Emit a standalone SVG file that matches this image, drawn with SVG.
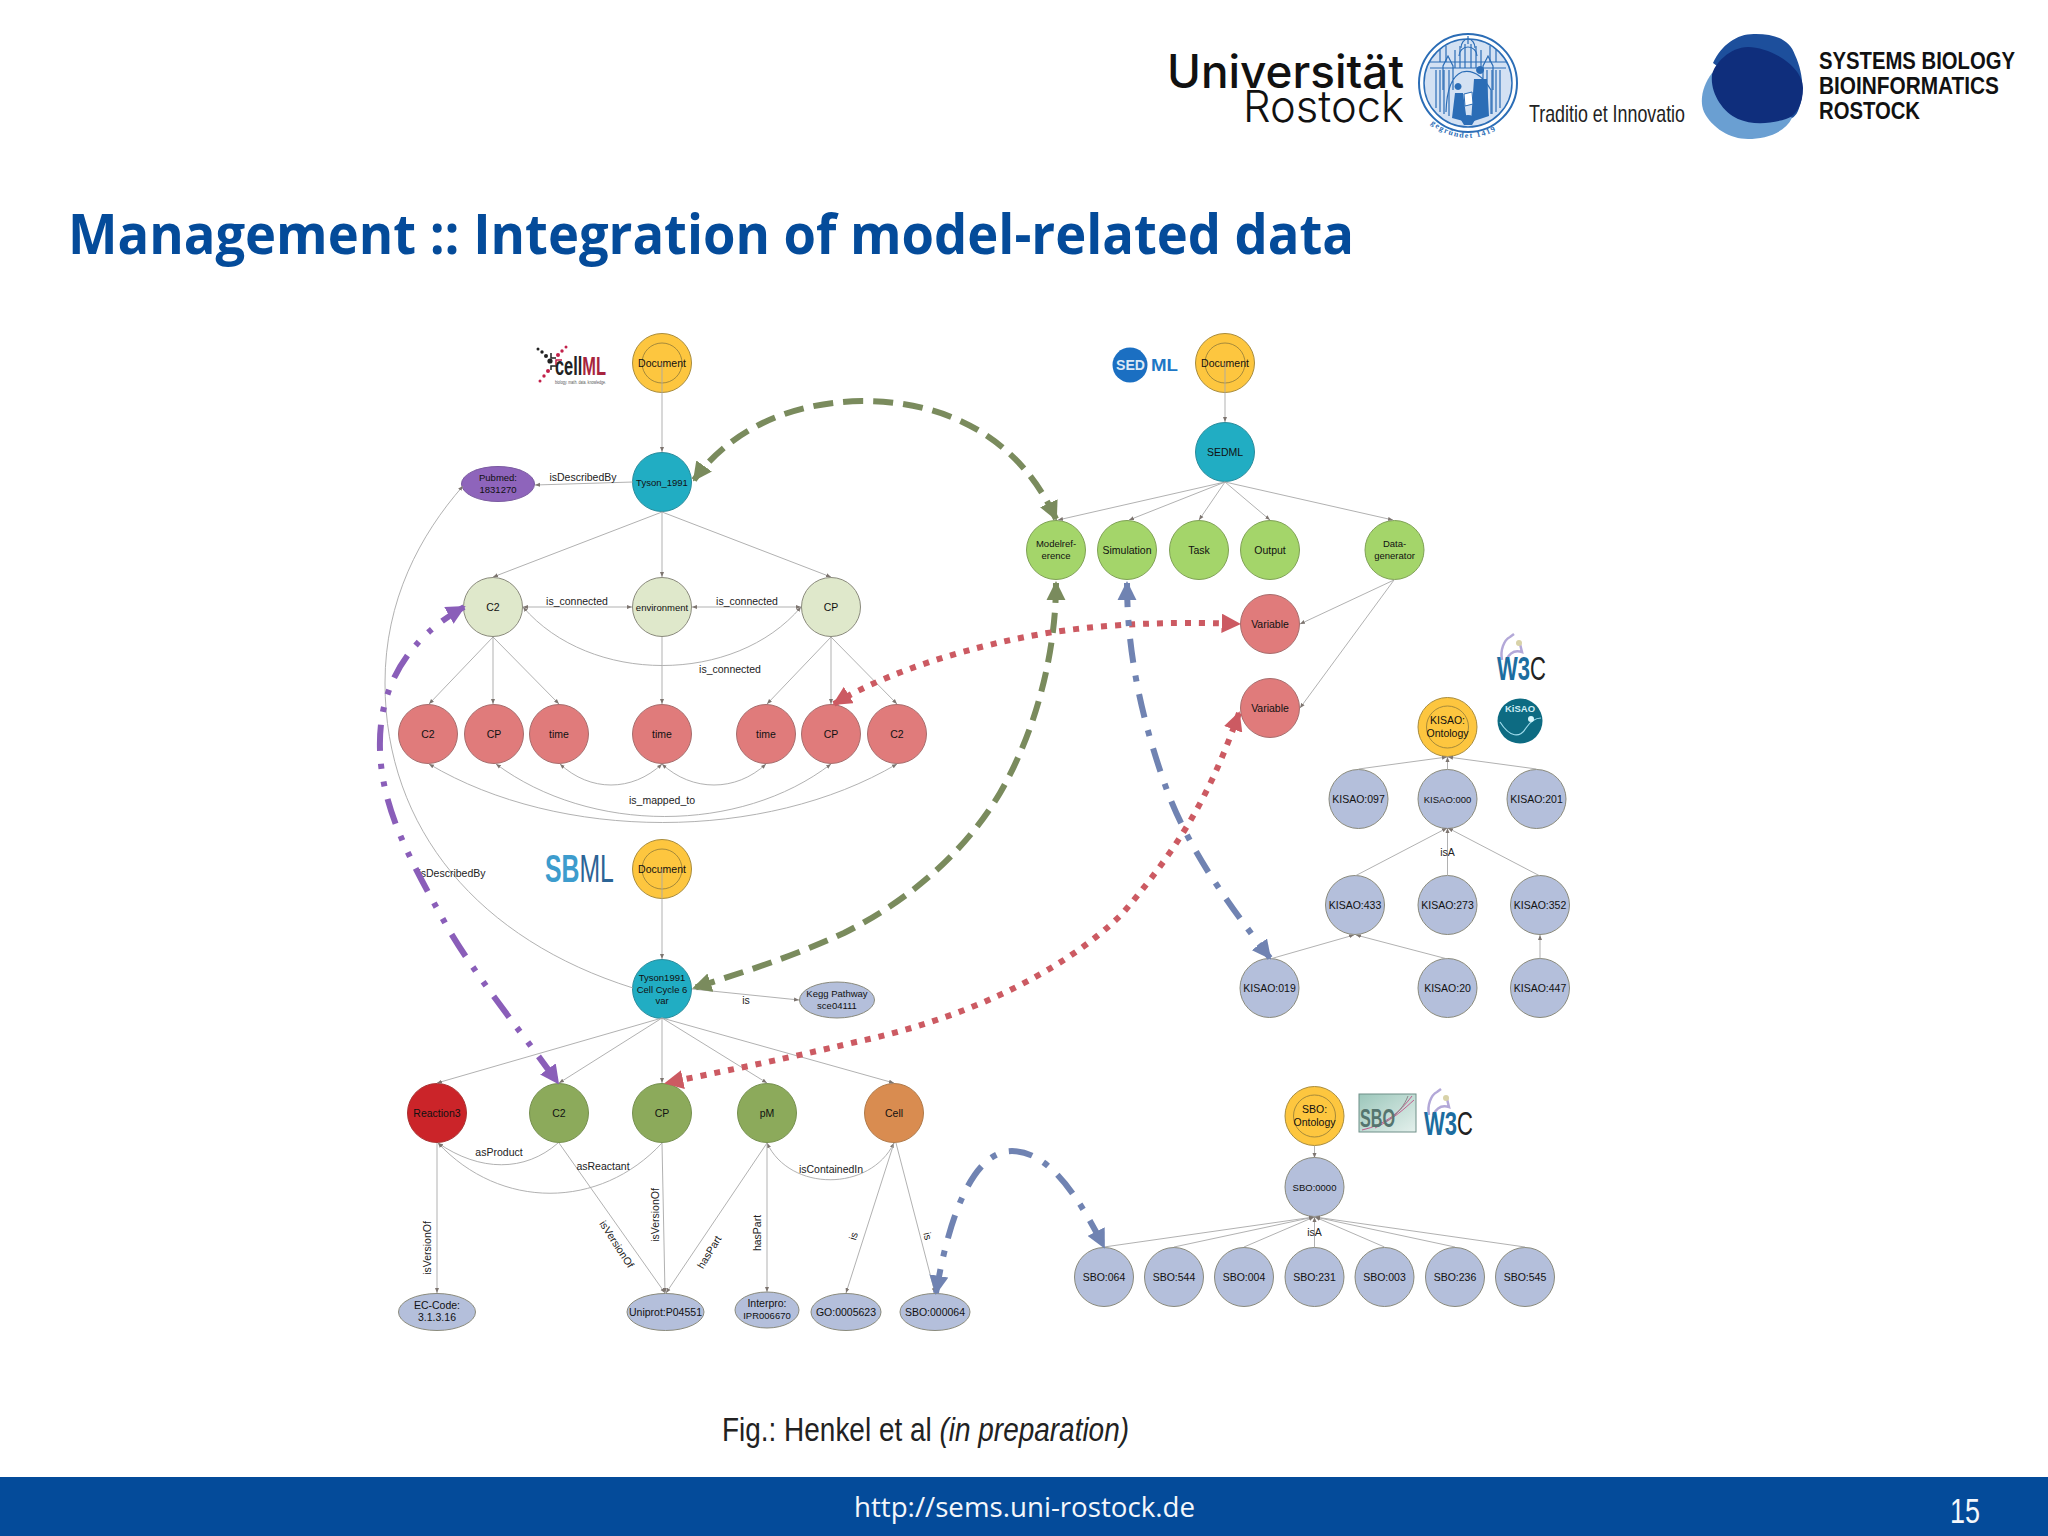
<svg xmlns="http://www.w3.org/2000/svg" width="2048" height="1536" viewBox="0 0 2048 1536">
<style>
text{font-family:"Liberation Sans",Arial,sans-serif;fill:#111}
.n{font-size:10.5px;text-anchor:middle}
.s{font-size:9.5px;text-anchor:middle}
.l{font-size:10.5px;text-anchor:middle;fill:#222}
circle,ellipse{stroke:#8a8a7c;stroke-width:1}
.doc{fill:#fdc63f;stroke:#a98c3c}
.in{fill:none;stroke:#8f7a38;stroke-width:.8}
.teal{fill:#21adc3;stroke:#2a8c9c}
.pale{fill:#dfe8cb}
.pink{fill:#e07b7b;stroke:#a76d6d}
.pur{fill:#8e64bb;stroke:#7a5aa0}
.lil{fill:#b4bfdb}
.lime{fill:#a4d56a;stroke:#7fa155}
.oli{fill:#8caa5b;stroke:#76904f}
.red{fill:#cb2429;stroke:#a33}
.ora{fill:#d98c50;stroke:#b07a4a}
.e{fill:none;stroke:#a8a8a8;stroke-width:.9;marker-end:url(#a)}
.b{fill:none;stroke:#a8a8a8;stroke-width:.9;marker-end:url(#a);marker-start:url(#a)}
.g{fill:none;stroke:#7a8b5d;stroke-width:6;stroke-dasharray:20 10}
.p{fill:none;stroke:#8a5eb9;stroke-width:6;stroke-dasharray:26 13 5 13 5 13}
.r{fill:none;stroke:#cc5a62;stroke-width:6;stroke-dasharray:6 8}
.u{fill:none;stroke:#7083b2;stroke-width:6;stroke-dasharray:24 13 6 13}
.sl{fill:none;stroke:#2b6db6;stroke-width:1.2}
.sf{fill:#2b6db6}
</style>
<defs>
<marker id="a" viewBox="0 0 10 10" refX="10" refY="5" markerWidth="5" markerHeight="5" markerUnits="userSpaceOnUse" orient="auto-start-reverse"><path d="M0 1L10 5L0 9z" fill="#7d7570"/></marker>
<marker id="mg" viewBox="0 0 10 10" refX="9" refY="5" markerWidth="3.200" markerHeight="3.200" orient="auto-start-reverse"><path d="M0 0L10 5L0 10z" fill="#7a8b5d"/></marker>
<marker id="mp" viewBox="0 0 10 10" refX="9" refY="5" markerWidth="3.200" markerHeight="3.200" orient="auto-start-reverse"><path d="M0 0L10 5L0 10z" fill="#8a5eb9"/></marker>
<marker id="mr" viewBox="0 0 10 10" refX="9" refY="5" markerWidth="3.200" markerHeight="3.200" orient="auto-start-reverse"><path d="M0 0L10 5L0 10z" fill="#cc5a62"/></marker>
<marker id="mu" viewBox="0 0 10 10" refX="9" refY="5" markerWidth="3.200" markerHeight="3.200" orient="auto-start-reverse"><path d="M0 0L10 5L0 10z" fill="#7083b2"/></marker>
<linearGradient id="sbog" x1="0" y1="0" x2="1" y2="1"><stop offset="0" stop-color="#9cc7bb"/><stop offset="1" stop-color="#e4f0ec"/></linearGradient>
<path id="sealarc" d="M1426 119A56 56 0 0 0 1510 119"/>
</defs>
<rect width="2048" height="1536" fill="#fff"/>

<g id="logo-rostock">
<text x="1404" y="88" text-anchor="end" font-size="46" textLength="237" lengthAdjust="spacingAndGlyphs" style="font-family:Inter,'Liberation Sans',sans-serif;font-weight:500">Universität</text>
<text x="1404" y="122" text-anchor="end" font-size="44" textLength="161" lengthAdjust="spacingAndGlyphs" style="font-family:Inter,'Liberation Sans',sans-serif;font-weight:300">Rostock</text>
</g>
<g id="seal">
<circle cx="1468" cy="83" r="49" fill="#fff" style="stroke:#2b6db6;stroke-width:2"/>
<circle cx="1468" cy="83" r="44" fill="#d3e1f3" style="stroke:#2b6db6;stroke-width:1.500"/>
<path class="sl" d="M1430 62H1506M1430 68H1506M1436 108V70M1440 112V70M1444 114V70M1449 116V70M1487 116V70M1492 114V70M1496 112V70M1500 108V70M1455 68V50M1460 68V46M1465 68V44M1471 68V44M1476 68V46M1481 68V50M1468 36V44M1440 62V50M1446 62V46M1490 62V46M1496 62V50"/>
<path class="sl" d="M1459 56A9 9 0 0 1 1477 56M1461 48A7 9 0 0 1 1475 48M1443 90L1443 66L1448 56L1453 66V90M1483 90L1483 66L1488 56L1493 66V90M1446 112Q1447 78 1462 72Q1478 68 1491 90V114"/>
<path class="sf" d="M1458 90a3.500 3.500 0 1 1 .1 0zM1452 118L1455 93H1463L1467 122z"/>
<path class="sf" d="M1480 74a4 4 0 1 1 .1 0zM1471 122L1474 79H1487L1489 116z"/>
<path fill="#fff" stroke="#2b6db6" d="M1464 94L1472 92L1473 104L1465 106z"/>
<path class="sf" d="M1461 120a7 5 0 1 1 14 0l-3 5h-8z"/>
<text font-size="8" letter-spacing="1.300" style="font-family:'Liberation Serif',serif;font-weight:700;fill:#2b6db6"><textPath href="#sealarc" startOffset="7%">gegründet 1419</textPath></text>
</g>
<g id="motto"><text x="1529" y="122" font-size="24" textLength="156" lengthAdjust="spacingAndGlyphs" style="fill:#222">Traditio et Innovatio</text></g>
<g id="logo-sbi">
<path fill="#6a9fd2" d="M1712 73C1703 85 1699 100 1704 112C1712 128 1730 139 1748 139C1765 139 1785 133 1792 118L1760 90Z"/>
<path fill="#1d4f9c" d="M1713 63C1722 44 1738 33 1756 34C1776 34 1790 40 1795 55C1802 70 1805 90 1800 105C1798 112 1796 116 1792 118L1750 90Z"/>
<path fill="#0f2e7c" d="M1712 75C1714 64 1730 47 1748 47C1770 47 1803 66 1803 88C1803 105 1796 116 1786 119C1770 124 1752 125 1738 119C1722 112 1710 92 1712 75Z"/>
<text x="1819" y="69" font-size="24" font-weight="700" textLength="196" lengthAdjust="spacingAndGlyphs">SYSTEMS BIOLOGY</text>
<text x="1819" y="94" font-size="24" font-weight="700" textLength="180" lengthAdjust="spacingAndGlyphs">BIOINFORMATICS</text>
<text x="1819" y="119" font-size="24" font-weight="700" textLength="101" lengthAdjust="spacingAndGlyphs">ROSTOCK</text>
</g>

<text id="title" x="68" y="254" font-size="55" font-weight="700" textLength="1286" lengthAdjust="spacingAndGlyphs" style="font-family:'Open Sans','Liberation Sans',sans-serif;fill:#044b9a">Management :: Integration of model-related data</text>

<g id="logo-cellml">
<g><circle cx="538" cy="349" r="1.500" style="fill:#222;stroke:none"/><circle cx="542" cy="352" r="1.700" style="fill:#222;stroke:none"/><circle cx="546" cy="356" r="2" style="fill:#222;stroke:none"/><circle cx="550" cy="361" r="2.600" style="fill:#222;stroke:none"/></g>
<g><circle cx="566" cy="347" r="1.500" style="fill:#c2204a;stroke:none"/><circle cx="562" cy="351" r="1.700" style="fill:#c2204a;stroke:none"/><circle cx="558" cy="355" r="2" style="fill:#c2204a;stroke:none"/><circle cx="540" cy="381" r="1.500" style="fill:#c2204a;stroke:none"/><circle cx="544" cy="376" r="1.700" style="fill:#c2204a;stroke:none"/><circle cx="548" cy="371" r="2" style="fill:#c2204a;stroke:none"/></g>
<path d="M551 353V358H556M557 366H551V370" fill="none" stroke="#222" stroke-width="1.500"/>
<path d="M562 360H556V365" fill="none" stroke="#c2204a" stroke-width="1.500"/>
<text transform="translate(555 375) scale(.656 1)" font-size="25" font-weight="700" style="fill:#222">cell<tspan style="fill:#a8243e">ML</tspan></text>
<text x="555" y="384" font-size="5" textLength="51" lengthAdjust="spacingAndGlyphs" style="fill:#555">biology. math. data. knowledge.</text>
</g>
<g id="logo-sbml">
<text transform="translate(545 882) scale(.653 1)" font-size="38" font-weight="700" style="fill:#3d9ccd">SB<tspan font-weight="400" style="fill:#2c6496">ML</tspan></text>
</g>
<g id="logo-sedml">
<circle cx="1130" cy="365" r="17.500" style="fill:#1b6fc2;stroke:none"/>
<text x="1116" y="370" font-size="14" font-weight="700" textLength="29" lengthAdjust="spacingAndGlyphs" style="fill:#dce9f6">SED</text>
<text x="1151" y="371" font-size="17" font-weight="700" textLength="27" lengthAdjust="spacingAndGlyphs" style="fill:#2077c5">ML</text>
</g>
<g id="logo-w3c-1">
<path d="M1502 660C1500 650 1504 640 1510 637L1514 634M1506 660C1510 652 1516 650 1522 652L1520 644" fill="none" stroke="#b3a8d8" stroke-width="2.500"/>
<circle cx="1519" cy="643" r="3" style="fill:#d8d2a8;stroke:none"/>
<text transform="translate(1497 680) scale(.668 1)" font-size="33" font-weight="700" style="fill:#1c6da0">W3<tspan font-weight="400" style="fill:#222">C</tspan></text>
</g>
<g id="logo-kisao">
<circle cx="1520" cy="721" r="22.500" style="fill:#0d6b82;stroke:none"/>
<path d="M1500 722C1510 738 1520 738 1526 728C1530 722 1534 718 1541 718" fill="none" stroke="#9fdcec" stroke-width="1.200"/>
<circle cx="1531" cy="719" r="3" style="fill:#d8f6fb;stroke:none"/>
<text x="1520" y="712" text-anchor="middle" font-size="9.500" font-weight="700" style="fill:#cfeef5">KiSAO</text>
</g>
<g id="logo-sbo">
<rect x="1359" y="1094" width="57" height="38" fill="url(#sbog)" stroke="#6f8f88"/>
<path d="M1362 1130C1385 1125 1400 1112 1412 1096M1375 1128C1395 1118 1405 1108 1414 1100" fill="none" stroke="#c23a7a" stroke-width=".8"/>
<path d="M1385 1122C1398 1115 1405 1104 1408 1096" fill="none" stroke="#888"/>
<text x="1360" y="1127" font-size="25" font-weight="700" textLength="35" lengthAdjust="spacingAndGlyphs" style="fill:#55756f">SBO</text>
</g>
<g id="logo-w3c-2">
<path d="M1429 1115C1427 1105 1431 1095 1437 1092L1441 1089M1433 1115C1437 1107 1443 1105 1449 1107L1447 1099" fill="none" stroke="#b3a8d8" stroke-width="2.500"/>
<circle cx="1446" cy="1098" r="3" style="fill:#d8d2a8;stroke:none"/>
<text transform="translate(1424 1135) scale(.668 1)" font-size="33" font-weight="700" style="fill:#1c6da0">W3<tspan font-weight="400" style="fill:#222">C</tspan></text>
</g>

<g id="nodes">
<g id="cml-doc"><circle class="doc" cx="662" cy="363" r="29.500"/><circle class="in" cx="662" cy="363" r="20"/><text class="n" x="662" y="367">Document</text></g>
<g id="cml-tyson"><circle class="teal" cx="662" cy="482" r="29.500"/><text class="s" x="662" y="486">Tyson_1991</text></g>
<g id="cml-pubmed"><ellipse class="pur" cx="498" cy="484" rx="36.500" ry="17.500"/><text class="s" x="498" y="481">Pubmed:</text><text class="s" x="498" y="493">1831270</text></g>
<g id="cml-c2"><circle class="pale" cx="493" cy="607" r="29.500"/><text class="n" x="493" y="611">C2</text></g>
<g id="cml-env"><circle class="pale" cx="662" cy="607" r="29.500"/><text class="s" x="662" y="611">environment</text></g>
<g id="cml-cp"><circle class="pale" cx="831" cy="607" r="29.500"/><text class="n" x="831" y="611">CP</text></g>
<g id="cml-a"><circle class="pink" cx="428" cy="734" r="29.500"/><text class="n" x="428" y="738">C2</text></g>
<g id="cml-b"><circle class="pink" cx="494" cy="734" r="29.500"/><text class="n" x="494" y="738">CP</text></g>
<g id="cml-c"><circle class="pink" cx="559" cy="734" r="29.500"/><text class="n" x="559" y="738">time</text></g>
<g id="cml-d"><circle class="pink" cx="662" cy="734" r="29.500"/><text class="n" x="662" y="738">time</text></g>
<g id="cml-e"><circle class="pink" cx="766" cy="734" r="29.500"/><text class="n" x="766" y="738">time</text></g>
<g id="cml-f"><circle class="pink" cx="831" cy="734" r="29.500"/><text class="n" x="831" y="738">CP</text></g>
<g id="cml-g"><circle class="pink" cx="897" cy="734" r="29.500"/><text class="n" x="897" y="738">C2</text></g>

<g id="sbml-doc"><circle class="doc" cx="662" cy="869" r="29.500"/><circle class="in" cx="662" cy="869" r="20"/><text class="n" x="662" y="873">Document</text></g>
<g id="sbml-tyson"><circle class="teal" cx="662" cy="989" r="29.500"/><text class="s" x="662" y="981">Tyson1991</text><text class="s" x="662" y="992.500">Cell Cycle 6</text><text class="s" x="662" y="1004">var</text></g>
<g id="sbml-kegg"><ellipse class="lil" cx="837" cy="1000" rx="37.500" ry="18"/><text class="s" x="837" y="997">Kegg Pathway</text><text class="s" x="837" y="1009">sce04111</text></g>
<g id="sbml-r3"><circle class="red" cx="437" cy="1113" r="29.500"/><text class="n" x="437" y="1117">Reaction3</text></g>
<g id="sbml-c2"><circle class="oli" cx="559" cy="1113" r="29.500"/><text class="n" x="559" y="1117">C2</text></g>
<g id="sbml-cp"><circle class="oli" cx="662" cy="1113" r="29.500"/><text class="n" x="662" y="1117">CP</text></g>
<g id="sbml-pm"><circle class="oli" cx="767" cy="1113" r="29.500"/><text class="n" x="767" y="1117">pM</text></g>
<g id="sbml-cell"><circle class="ora" cx="894" cy="1113" r="29.500"/><text class="n" x="894" y="1117">Cell</text></g>
<g id="sbml-ec"><ellipse class="lil" cx="437" cy="1312" rx="38.500" ry="18.500"/><text class="n" x="437" y="1309">EC-Code:</text><text class="n" x="437" y="1321">3.1.3.16</text></g>
<g id="sbml-uni"><ellipse class="lil" cx="665.500" cy="1312" rx="38.500" ry="18.500"/><text class="n" x="665.500" y="1316">Uniprot:P04551</text></g>
<g id="sbml-ipr"><ellipse class="lil" cx="767" cy="1310" rx="32" ry="18"/><text class="n" x="767" y="1307">Interpro:</text><text class="s" x="767" y="1319">IPR006670</text></g>
<g id="sbml-go"><ellipse class="lil" cx="846" cy="1312" rx="35" ry="18.500"/><text class="n" x="846" y="1316">GO:0005623</text></g>
<g id="sbml-sbo"><ellipse class="lil" cx="935" cy="1312" rx="35" ry="18.500"/><text class="n" x="935" y="1316">SBO:000064</text></g>

<g id="sed-doc"><circle class="doc" cx="1225" cy="363" r="29.500"/><circle class="in" cx="1225" cy="363" r="20"/><text class="n" x="1225" y="367">Document</text></g>
<g id="sed-root"><circle class="teal" cx="1225" cy="452" r="29.500"/><text class="n" x="1225" y="456">SEDML</text></g>
<g id="sed-model"><circle class="lime" cx="1056" cy="550" r="29.500"/><text class="s" x="1056" y="547">Modelref-</text><text class="s" x="1056" y="559">erence</text></g>
<g id="sed-sim"><circle class="lime" cx="1127" cy="550" r="29.500"/><text class="n" x="1127" y="554">Simulation</text></g>
<g id="sed-task"><circle class="lime" cx="1199" cy="550" r="29.500"/><text class="n" x="1199" y="554">Task</text></g>
<g id="sed-out"><circle class="lime" cx="1270" cy="550" r="29.500"/><text class="n" x="1270" y="554">Output</text></g>
<g id="sed-dg"><circle class="lime" cx="1394.500" cy="550" r="29.500"/><text class="s" x="1394.500" y="547">Data-</text><text class="s" x="1394.500" y="559">generator</text></g>
<g id="sed-v1"><circle class="pink" cx="1270" cy="624" r="29.500"/><text class="n" x="1270" y="628">Variable</text></g>
<g id="sed-v2"><circle class="pink" cx="1270" cy="708" r="29.500"/><text class="n" x="1270" y="712">Variable</text></g>

<g id="kisao-root"><circle class="doc" cx="1447.500" cy="727" r="29.500"/><circle class="in" cx="1447.500" cy="727" r="21"/><text class="n" x="1447.500" y="724">KISAO:</text><text class="n" x="1447.500" y="737">Ontology</text></g>
<g id="k097"><circle class="lil" cx="1358.500" cy="799" r="29.500"/><text class="n" x="1358.500" y="803">KISAO:097</text></g>
<g id="k000"><circle class="lil" cx="1447.500" cy="799" r="29.500"/><text class="s" x="1447.500" y="803">KISAO:000</text></g>
<g id="k201"><circle class="lil" cx="1536.500" cy="799" r="29.500"/><text class="n" x="1536.500" y="803">KISAO:201</text></g>
<g id="k433"><circle class="lil" cx="1355" cy="905" r="29.500"/><text class="n" x="1355" y="909">KISAO:433</text></g>
<g id="k273"><circle class="lil" cx="1447.500" cy="905" r="29.500"/><text class="n" x="1447.500" y="909">KISAO:273</text></g>
<g id="k352"><circle class="lil" cx="1540" cy="905" r="29.500"/><text class="n" x="1540" y="909">KISAO:352</text></g>
<g id="k019"><circle class="lil" cx="1269.500" cy="988" r="29.500"/><text class="n" x="1269.500" y="992">KISAO:019</text></g>
<g id="k20"><circle class="lil" cx="1447.500" cy="988" r="29.500"/><text class="n" x="1447.500" y="992">KISAO:20</text></g>
<g id="k447"><circle class="lil" cx="1540" cy="988" r="29.500"/><text class="n" x="1540" y="992">KISAO:447</text></g>

<g id="sbo-root"><circle class="doc" cx="1314.500" cy="1116" r="29.500"/><circle class="in" cx="1314.500" cy="1116" r="21"/><text class="n" x="1314.500" y="1113">SBO:</text><text class="n" x="1314.500" y="1126">Ontology</text></g>
<g id="s0000"><circle class="lil" cx="1314.500" cy="1187" r="29.500"/><text class="s" x="1314.500" y="1191">SBO:0000</text></g>
<g id="s064"><circle class="lil" cx="1104" cy="1277" r="29.500"/><text class="n" x="1104" y="1281">SBO:064</text></g>
<g id="s544"><circle class="lil" cx="1174" cy="1277" r="29.500"/><text class="n" x="1174" y="1281">SBO:544</text></g>
<g id="s004"><circle class="lil" cx="1244" cy="1277" r="29.500"/><text class="n" x="1244" y="1281">SBO:004</text></g>
<g id="s231"><circle class="lil" cx="1314.500" cy="1277" r="29.500"/><text class="n" x="1314.500" y="1281">SBO:231</text></g>
<g id="s003"><circle class="lil" cx="1384.500" cy="1277" r="29.500"/><text class="n" x="1384.500" y="1281">SBO:003</text></g>
<g id="s236"><circle class="lil" cx="1455" cy="1277" r="29.500"/><text class="n" x="1455" y="1281">SBO:236</text></g>
<g id="s545"><circle class="lil" cx="1525" cy="1277" r="29.500"/><text class="n" x="1525" y="1281">SBO:545</text></g>
</g>

<g id="connectors">
<path class="e" d="M662 363V452"/>
<path class="e" d="M633 482L535 485"/>
<path class="e" d="M662 512L493 577"/>
<path class="e" d="M662 512V577"/>
<path class="e" d="M662 512L831 577"/>
<path class="b" d="M523 607H632"/>
<path class="b" d="M692 607H801"/>
<path class="b" d="M523 607C590 685 735 685 801 607"/>
<path class="e" d="M662 637V704"/>
<path class="e" d="M493 637L429 704"/><path class="e" d="M493 637V704"/><path class="e" d="M493 637L559 704"/>
<path class="e" d="M831 637L767 704"/><path class="e" d="M831 637V704"/><path class="e" d="M831 637L897 704"/>
<path class="b" d="M429 764C560 842 765 842 897 764"/>
<path class="b" d="M496 764C590 834 740 834 831 764"/>
<path class="b" d="M560 764C590 792 632 792 662 764"/>
<path class="b" d="M662 764C692 792 736 792 766 764"/>
<path class="e" d="M633 988C480 940 385 830 385 683C385 600 420 535 463 486"/>

<path class="e" d="M662 869V959"/>
<path class="e" d="M692 989L799 1000"/>
<path class="e" d="M662 1018L437 1083"/><path class="e" d="M662 1018L559 1083"/><path class="e" d="M662 1018V1083"/><path class="e" d="M662 1018L767 1083"/><path class="e" d="M662 1018L894 1083"/>
<path class="e" d="M558 1143C525 1172 480 1172 438 1143"/>
<path class="e" d="M662 1143C600 1210 500 1210 438 1143"/>
<path class="b" d="M767 1143C790 1192 870 1192 894 1143"/>
<path class="e" d="M437 1143V1293"/>
<path class="e" d="M559 1143L665 1293"/><path class="e" d="M662 1143L665 1293"/><path class="e" d="M767 1143L666 1293"/>
<path class="e" d="M767 1143V1292"/>
<path class="e" d="M894 1143L846 1293"/><path class="e" d="M896 1143L935 1293"/>

<path class="e" d="M1225 363V422"/>
<path class="e" d="M1225 482L1058 520"/><path class="e" d="M1225 482L1129 520"/><path class="e" d="M1225 482L1199 520"/><path class="e" d="M1225 482L1270 520"/><path class="e" d="M1225 482L1393 520"/>
<path class="e" d="M1394 580L1300 624"/><path class="e" d="M1394 580L1300 708"/>

<path class="e" d="M1358.500 769L1447 757"/><path class="e" d="M1447.500 769V757"/><path class="e" d="M1536.500 769L1448 757"/>
<path class="e" d="M1355 876L1447 828"/><path class="e" d="M1447.500 876V828"/><path class="e" d="M1540 876L1448 828"/>
<path class="e" d="M1270 959L1354 935"/><path class="e" d="M1447.500 959L1356 935"/><path class="e" d="M1540 959V935"/>
<path class="e" d="M1314.500 1146V1158"/>
<path class="e" d="M1104 1247L1314 1217"/><path class="e" d="M1174 1247L1314 1217"/><path class="e" d="M1244 1247L1314 1217"/><path class="e" d="M1314.500 1247V1217"/><path class="e" d="M1384.500 1247L1315 1217"/><path class="e" d="M1455 1247L1315 1217"/><path class="e" d="M1525 1247L1315 1217"/>

<text class="l" x="583" y="481">isDescribedBy</text>
<text class="l" x="577" y="605">is_connected</text>
<text class="l" x="747" y="605">is_connected</text>
<text class="l" x="730" y="673">is_connected</text>
<text class="l" x="662" y="804">is_mapped_to</text>
<text class="l" x="452" y="877">isDescribedBy</text>
<text class="l" x="746" y="1004">is</text>
<text class="l" x="499" y="1156">asProduct</text>
<text class="l" x="603" y="1170">asReactant</text>
<text class="l" x="831" y="1173">isContainedIn</text>
<text class="l" transform="translate(427 1248) rotate(-90)" y="4">isVersionOf</text>
<text class="l" transform="translate(655 1215) rotate(-90)" y="4">isVersionOf</text>
<text class="l" transform="translate(617 1244) rotate(57)" y="4">isVersionOf</text>
<text class="l" transform="translate(709 1252) rotate(-59)" y="4">hasPart</text>
<text class="l" transform="translate(757 1233) rotate(-90)" y="4">hasPart</text>
<text class="l" transform="translate(853 1236) rotate(-73)" y="4">is</text>
<text class="l" transform="translate(928 1236) rotate(77)" y="4">is</text>
<text class="l" x="1447.500" y="856">isA</text>
<text class="l" x="1314.500" y="1236">isA</text>
</g>

<g id="cross-links">
<path class="g" marker-end="url(#mg)" marker-start="url(#mg)" d="M1056 519C1020 440 950 401 862 401C790 402 730 430 694 480"/>
<path class="g" marker-end="url(#mg)" marker-start="url(#mg)" d="M1056 583C1056 640 1042 720 1000 793C960 860 900 905 844 933C790 958 740 973 694 988"/>
<path class="p" marker-end="url(#mp)" marker-start="url(#mp)" d="M464 607C405 640 378 690 380 750C382 810 410 860 449 930C480 982 520 1030 558 1083"/>
<path class="r" marker-end="url(#mr)" marker-start="url(#mr)" d="M834 704C900 664 1000 640 1054 632C1120 622 1190 622 1239 624"/>
<path class="r" marker-end="url(#mr)" marker-start="url(#mr)" d="M1239 713C1215 780 1190 835 1122 914C1060 975 960 1020 856 1042C780 1060 720 1072 666 1083"/>
<path class="u" marker-end="url(#mu)" marker-start="url(#mu)" d="M1127 583C1127 660 1145 730 1168 793C1190 850 1225 900 1270 958"/>
<path class="u" marker-end="url(#mu)" marker-start="url(#mu)" d="M936 1293C950 1210 975 1151 1012 1151C1050 1151 1080 1200 1104 1247"/>
</g>

<text id="caption" x="722" y="1441" font-size="33" textLength="407" lengthAdjust="spacingAndGlyphs" style="fill:#222">Fig.: Henkel et al <tspan font-style="italic">(in preparation)</tspan></text>

<g id="footer">
<rect y="1477" width="2048" height="59" fill="#044b9a"/>
<text x="854" y="1517" font-size="28" textLength="341" lengthAdjust="spacingAndGlyphs" style="font-family:'Open Sans','Liberation Sans',sans-serif;fill:#f4f7fb">http://sems.uni-rostock.de</text>
<text x="1950" y="1523" font-size="35" textLength="30" lengthAdjust="spacingAndGlyphs" style="fill:#f4f7fb">15</text>
</g>
</svg>
